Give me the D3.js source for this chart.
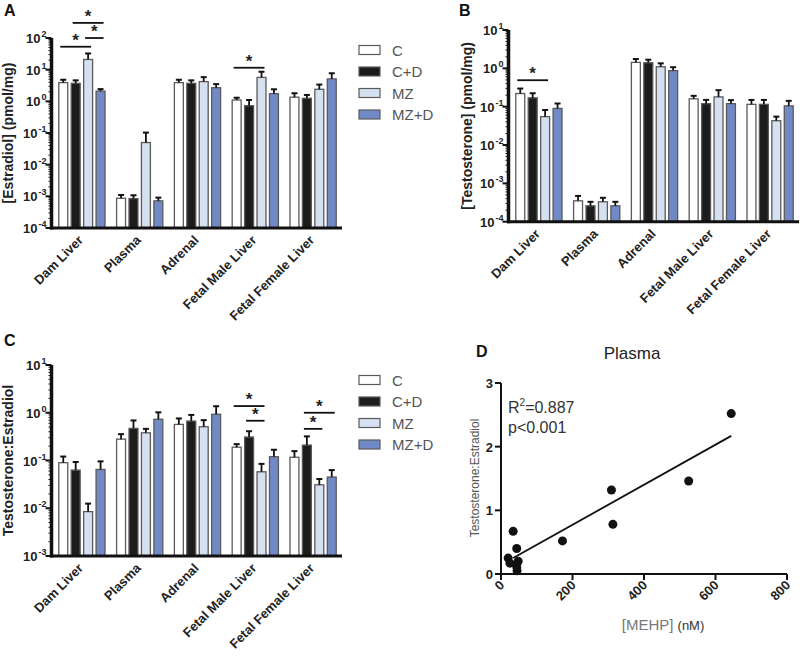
<!DOCTYPE html>
<html>
<head>
<meta charset="utf-8">
<script src="https://cdn.jsdelivr.net/npm/d3@7"></script>
<style>
  body { margin: 0; background: #fff; }
  text { font-family: Arial, "Liberation Sans", sans-serif; }
</style>
</head>
<body>
<svg width="800" height="662"></svg>
<script>
// Categories and groups
var tissues = ["Dam Liver", "Plasma", "Adrenal", "Fetal Male Liver", "Fetal Female Liver"];
var groups = ["C", "C+D", "MZ", "MZ+D"];
var groupColors = ["#ffffff", "#1c1c1c", "#d5e0f1", "#7189c6"];

// Panel A: estradiol (pmol/mg), rows = tissues, cols = groups
var estradiolMean = [[3.9, 3.7, 21, 2.1], [8.7e-4, 8.5e-4, 0.05, 7.2e-4], [3.9, 3.7, 4.2, 2.7], [1.1, 0.73, 5.7, 1.75], [1.35, 1.25, 2.4, 5.1]];
var estradiolErr = [[0.9, 0.9, 11.5, 0.33], [2.3e-4, 2.3e-4, 0.053, 1.9e-4], [0.9, 0.9, 1.6, 0.8], [0.2, 0.37, 2.9, 0.65], [0.45, 0.34, 0.98, 2.6]];
// significance: [tissue, from group, to group, height in data units]
var estradiolSig = [[0, 0, 2, 53], [0, 1, 3, 300], [0, 2, 3, 100], [3, 0, 2, 11.5]];

// Panel B: testosterone (pmol/mg)
var testoMean = [[0.22, 0.17, 0.055, 0.09], [3.5e-4, 2.6e-4, 3.3e-4, 2.6e-4], [1.43, 1.4, 1.1, 0.87], [0.16, 0.12, 0.18, 0.12], [0.115, 0.115, 0.043, 0.105]];
var testoErr = [[0.077, 0.054, 0.027, 0.031], [1.2e-4, 0.7e-4, 0.9e-4, 0.7e-4], [0.32, 0.28, 0.25, 0.2], [0.032, 0.03, 0.09, 0.028], [0.035, 0.035, 0.012, 0.037]];
var testoSig = [[0, 0, 2, 0.49]];

// Panel C: testosterone:estradiol ratio
var ratioMean = [[0.09, 0.063, 0.0085, 0.065], [0.28, 0.47, 0.38, 0.73], [0.57, 0.67, 0.51, 0.93], [0.19, 0.31, 0.058, 0.12], [0.117, 0.21, 0.031, 0.045]];
var ratioErr = [[0.031, 0.03, 0.004, 0.031], [0.076, 0.22, 0.08, 0.29], [0.19, 0.23, 0.19, 0.44], [0.03, 0.1, 0.027, 0.048], [0.04, 0.11, 0.01, 0.018]];
var ratioSig = [[3, 0, 2, 1.38], [3, 1, 2, 0.68], [4, 1, 3, 1.0], [4, 1, 2, 0.46]];

// Panel D: plasma MEHP (nM) vs testosterone:estradiol
var mehp = [644, 309, 525, 313, 34, 172, 44, 20, 25, 48, 44, 45];
var ratioPlasma = [2.52, 1.32, 1.46, 0.78, 0.67, 0.52, 0.40, 0.25, 0.17, 0.20, 0.11, 0.05];
var fitLine = [[34, 0.25], [644, 2.17]];
var xTicksD = [0, 200, 400, 600, 800];
var yTicksD = [0, 1, 2, 3];

var svg = d3.select("svg");

function superTick(sel, exp) {
  sel.append("tspan").text("10");
  sel.append("tspan").attr("dy", -6).attr("dx", 1).attr("font-size", 9).text(exp);
}

function barPanel(o) {
  var g = svg.append("g");
  var x = d3.scaleBand().domain(tissues).range([o.x0, o.x1]).paddingInner(0.2).paddingOuter(0.1);
  var xi = d3.scaleBand().domain(groups).range([0, x.bandwidth()]).paddingInner(0.28);
  var y = d3.scaleLog().domain(o.domain).range([o.yBot, o.yTop]);

  // bars
  tissues.forEach(function (t, ti) {
    groups.forEach(function (gr, gi) {
      var m = o.mean[ti][gi], e = o.err[ti][gi];
      var bx = x(t) + xi(gr), bw = xi.bandwidth();
      g.append("rect")
        .attr("x", bx).attr("y", y(m))
        .attr("width", bw).attr("height", o.yBot - y(m))
        .attr("fill", groupColors[gi])
        .attr("stroke", "#5a5a5a").attr("stroke-width", 1.3);
      var cx = bx + bw / 2;
      g.append("line").attr("x1", cx).attr("x2", cx)
        .attr("y1", y(m)).attr("y2", y(m + e))
        .attr("stroke", "#111").attr("stroke-width", 1.8);
      g.append("line").attr("x1", cx - 3).attr("x2", cx + 3)
        .attr("y1", y(m + e)).attr("y2", y(m + e))
        .attr("stroke", "#111").attr("stroke-width", 2);
    });
  });

  // significance lines
  o.sig.forEach(function (s) {
    var t = tissues[s[0]];
    var xa = x(t) + xi(groups[s[1]]) + xi.bandwidth() / 2 - 3;
    var xb = x(t) + xi(groups[s[2]]) + xi.bandwidth() / 2 + 3;
    var yy = y(s[3]);
    g.append("line").attr("x1", xa).attr("x2", xb).attr("y1", yy).attr("y2", yy)
      .attr("stroke", "#111").attr("stroke-width", 1.8);
    g.append("text").attr("x", (xa + xb) / 2).attr("y", yy - 1)
      .attr("text-anchor", "middle").attr("font-size", 17).attr("font-weight", "bold")
      .attr("fill", "#222").text("*");
  });

  // axes
  var lo = Math.log10(o.domain[0]), hi = Math.log10(o.domain[1]);
  var ax = o.x0 - 1.5;
  for (var p = lo; p <= hi; p++) {
    var v = Math.pow(10, p);
    g.append("line").attr("x1", ax - 6).attr("x2", ax).attr("y1", y(v)).attr("y2", y(v))
      .attr("stroke", "#111").attr("stroke-width", 2);
    var lbl = g.append("text").attr("x", ax - 5).attr("y", y(v) + 5)
      .attr("text-anchor", "end").attr("font-size", 13).attr("font-weight", "bold").attr("fill", "#222");
    superTick(lbl, String(p));
    if (p < hi) {
      for (var k = 2; k <= 9; k++) {
        g.append("line").attr("x1", ax - 3).attr("x2", ax).attr("y1", y(k * v)).attr("y2", y(k * v))
          .attr("stroke", "#111").attr("stroke-width", 1);
      }
    }
  }
  g.append("line").attr("x1", ax).attr("x2", ax).attr("y1", o.yTop).attr("y2", o.yBot + 1.5)
    .attr("stroke", "#111").attr("stroke-width", 3.5);
  g.append("line").attr("x1", ax - 1.5).attr("x2", o.x1).attr("y1", o.yBot).attr("y2", o.yBot)
    .attr("stroke", "#111").attr("stroke-width", 3);

  // rotated category labels
  tissues.forEach(function (t) {
    var cx = x(t) + x.bandwidth() / 2 + 2;
    g.append("text")
      .attr("transform", "translate(" + cx + "," + (o.yBot + 13) + ") rotate(-45)")
      .attr("text-anchor", "end").attr("font-size", 13).attr("font-weight", "bold").attr("fill", "#222")
      .text(t);
  });

  // y title
  g.append("text")
    .attr("transform", "translate(" + o.titleX + "," + ((o.yTop + o.yBot) / 2) + ") rotate(-90)")
    .attr("text-anchor", "middle").attr("font-size", 14).attr("font-weight", "bold").attr("fill", "#222")
    .text(o.yLabel);

  // panel letter
  g.append("text").attr("x", o.letterX).attr("y", o.letterY)
    .attr("font-size", 16).attr("font-weight", "bold").attr("fill", "#111").text(o.letter);

  // legend
  if (o.legendY !== undefined) {
    groups.forEach(function (gr, gi) {
      var ly = o.legendY + gi * 21.5;
      g.append("rect").attr("x", 359).attr("y", ly - 4.5).attr("width", 21).attr("height", 9)
        .attr("fill", groupColors[gi]).attr("stroke", "#5a5a5a").attr("stroke-width", 1.2);
      g.append("text").attr("x", 392).attr("y", ly + 5.5)
        .attr("font-size", 15).attr("fill", "#555").text(gr);
    });
  }
}

barPanel({ mean: estradiolMean, err: estradiolErr, sig: estradiolSig, domain: [1e-4, 1e2],
  x0: 53, x1: 342, yTop: 38, yBot: 228, yLabel: "[Estradiol] (pmol/mg)", titleX: 13,
  letter: "A", letterX: 4, letterY: 16, legendY: 50 });
barPanel({ mean: testoMean, err: testoErr, sig: testoSig, domain: [1e-4, 1e1],
  x0: 510, x1: 799, yTop: 30, yBot: 221.7, yLabel: "[Testosterone] (pmol/mg)", titleX: 472,
  letter: "B", letterX: 459, letterY: 16 });
barPanel({ mean: ratioMean, err: ratioErr, sig: ratioSig, domain: [1e-3, 1e1],
  x0: 53, x1: 342, yTop: 365, yBot: 556, yLabel: "Testosterone:Estradiol", titleX: 13,
  letter: "C", letterX: 4, letterY: 346, legendY: 380 });

// Panel D scatter
var gD = svg.append("g");
var xD = d3.scaleLinear().domain([0, 800]).range([501, 787]);
var yD = d3.scaleLinear().domain([0, 3]).range([574, 383]);

gD.append("line").attr("x1", 501).attr("x2", 501).attr("y1", yD(3)).attr("y2", yD(0) + 1)
  .attr("stroke", "#111").attr("stroke-width", 2);
gD.append("line").attr("x1", 500).attr("x2", xD(800)).attr("y1", yD(0)).attr("y2", yD(0))
  .attr("stroke", "#111").attr("stroke-width", 2);
yTicksD.forEach(function (v) {
  gD.append("line").attr("x1", 495).attr("x2", 501).attr("y1", yD(v)).attr("y2", yD(v))
    .attr("stroke", "#111").attr("stroke-width", 2);
  gD.append("text").attr("x", 493).attr("y", yD(v) + 5).attr("text-anchor", "end")
    .attr("font-size", 13).attr("font-weight", "bold").attr("fill", "#222").text(v);
});
xTicksD.forEach(function (v) {
  gD.append("line").attr("x1", xD(v)).attr("x2", xD(v)).attr("y1", yD(0)).attr("y2", yD(0) + 6)
    .attr("stroke", "#111").attr("stroke-width", 2);
  gD.append("text")
    .attr("transform", "translate(" + (xD(v) + 4) + "," + (yD(0) + 12) + ") rotate(-45)")
    .attr("text-anchor", "end").attr("font-size", 13).attr("font-weight", "bold").attr("fill", "#222")
    .text(v);
});

gD.append("line")
  .attr("x1", xD(fitLine[0][0])).attr("y1", yD(fitLine[0][1]))
  .attr("x2", xD(fitLine[1][0])).attr("y2", yD(fitLine[1][1]))
  .attr("stroke", "#111").attr("stroke-width", 1.8);

gD.selectAll("circle").data(mehp).enter().append("circle")
  .attr("cx", function (d) { return xD(d); })
  .attr("cy", function (d, i) { return yD(ratioPlasma[i]); })
  .attr("r", 4.5).attr("fill", "#111");

gD.append("text").attr("x", 632).attr("y", 359).attr("text-anchor", "middle")
  .attr("font-size", 17).attr("fill", "#222").text("Plasma");
var r2 = gD.append("text").attr("x", 508).attr("y", 413).attr("font-size", 16).attr("fill", "#333");
r2.append("tspan").text("R");
r2.append("tspan").attr("dy", -7).attr("font-size", 10).text("2");
r2.append("tspan").attr("dy", 7).text("=0.887");
gD.append("text").attr("x", 508).attr("y", 433).attr("font-size", 16).attr("fill", "#333").text("p<0.001");

var xl = gD.append("text").attr("x", 663).attr("y", 630).attr("text-anchor", "middle").attr("font-size", 15);
xl.append("tspan").attr("fill", "#777").text("[MEHP] ");
xl.append("tspan").attr("fill", "#333").attr("font-size", 13).text("(nM)");
gD.append("text").attr("transform", "translate(479,478) rotate(-90)").attr("text-anchor", "middle")
  .attr("font-size", 12).attr("fill", "#555").text("Testosterone:Estradiol");
gD.append("text").attr("x", 476).attr("y", 357)
  .attr("font-size", 16).attr("font-weight", "bold").attr("fill", "#111").text("D");
</script>
</body>
</html>
